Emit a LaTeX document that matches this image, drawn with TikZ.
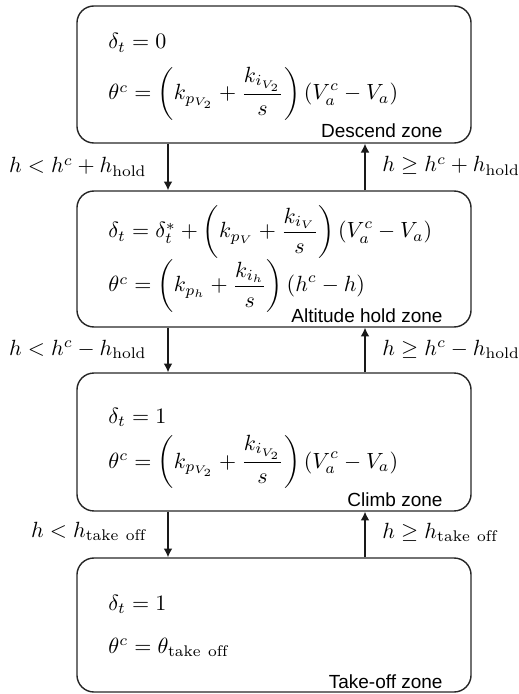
\documentclass[tikz,border=0pt]{standalone}
\usepackage{fontspec}
\setsansfont{Liberation Sans}
\usetikzlibrary{arrows.meta}
\begin{document}
\begin{tikzpicture}[x=0.4545pt,y=-0.4545pt,
  zone/.style={draw=black!85, line width=0.64pt, rounded corners=7.7pt, inner sep=0pt, minimum width=179.1pt},
  eq/.style={anchor=base west, inner sep=0pt},
  zlabel/.style={anchor=base east, inner sep=0pt, font=\sffamily\fontsize{8.64}{10}\selectfont},
  condl/.style={anchor=base east, inner sep=0pt},
  condr/.style={anchor=base west, inner sep=0pt},
  trans/.style={draw=black!90, line width=0.6pt, -{Latex[length=4pt,width=4pt]}}
]
\useasboundingbox (0,0) rectangle (519,694);
% zones
\node[zone, minimum height=62.27pt] (desc) at (274,74.5) {};
\node[zone, minimum height=61.8pt] (alt) at (274,259) {};
\node[zone, minimum height=62.7pt] (climb) at (274,442) {};
\node[zone, minimum height=60.9pt] (take) at (274,625) {};
% descend
\node[eq] (desc1) at (108,49) {$\delta_t = 0$};
\node[eq] (desc2) at (108,100) {$\theta^c = \displaystyle\left(k_{p_{V_2}} + \frac{k_{i_{V_2}}}{s}\right)(V_a^c - V_a)$};
\node[zlabel] (descl) at (443,138) {Descend zone};
% altitude hold
\node[eq] (alt1) at (108,238) {$\delta_t = \delta_t^* + \displaystyle\left(k_{p_V} + \frac{k_{i_V}}{s}\right)(V_a^c - V_a)$};
\node[eq] (alt2) at (108,292) {$\theta^c = \displaystyle\left(k_{p_h} + \frac{k_{i_h}}{s}\right)(h^c - h)$};
\node[zlabel] (altl) at (443,322) {Altitude hold zone};
% climb
\node[eq] (climb1) at (108,423) {$\delta_t = 1$};
\node[eq] (climb2) at (108,468) {$\theta^c = \displaystyle\left(k_{p_{V_2}} + \frac{k_{i_{V_2}}}{s}\right)(V_a^c - V_a)$};
\node[zlabel] (climbl) at (443,506) {Climb zone};
% take-off
\node[eq] (take1) at (108,610) {$\delta_t = 1$};
\node[eq] (take2) at (108,653) {$\theta^c = \theta_{\mathrm{take\ off}}$};
\node[zlabel] (takel) at (443,688) {Take-off zone};
% transitions
\coordinate (dx) at (168,0);
\coordinate (ux) at (365,0);
\draw[trans] (desc.south -| dx) -- (alt.north -| dx);
\draw[trans] (alt.north -| ux) -- (desc.south -| ux);
\draw[trans] (alt.south -| dx) -- (climb.north -| dx);
\draw[trans] (climb.north -| ux) -- (alt.south -| ux);
\draw[trans] (climb.south -| dx) -- (take.north -| dx);
\draw[trans] (take.north -| ux) -- (climb.south -| ux);
% conditions
\node[condl] (c1l) at (147,173) {$h < h^c + h_{\mathrm{hold}}$};
\node[condr] (c1r) at (382,172) {$h \geq h^c + h_{\mathrm{hold}}$};
\node[condl] (c2l) at (147,355) {$h < h^c - h_{\mathrm{hold}}$};
\node[condr] (c2r) at (382,355) {$h \geq h^c - h_{\mathrm{hold}}$};
\node[condl] (c3l) at (147,537) {$h < h_{\mathrm{take\ off}}$};
\node[condr] (c3r) at (382,538) {$h \geq h_{\mathrm{take\ off}}$};
\end{tikzpicture}
\end{document}
